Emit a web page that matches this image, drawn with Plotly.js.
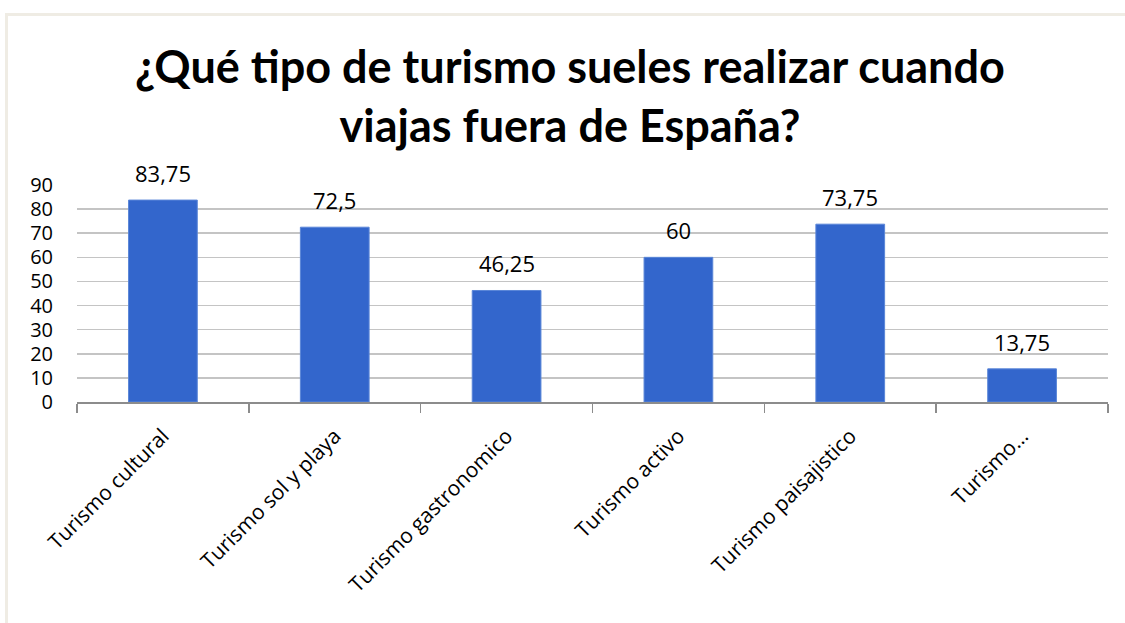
<!DOCTYPE html>
<html>
<head>
<meta charset="utf-8">
<script src="https://cdn.plot.ly/plotly-3.0.1.min.js"></script>
<style>
html,body{margin:0;padding:0;background:#fff;}
#frame{position:absolute;left:5px;top:13px;width:1120px;height:610px;border-left:3px solid #EFECE4;border-top:3px solid #EFECE4;box-sizing:border-box;}
#chart{position:absolute;left:0;top:0;width:1125px;height:623px;}
</style>
</head>
<body>
<div id="frame"></div>
<div id="chart"></div>
<script>
var categories = ["Turismo cultural", "Turismo sol y playa", "Turismo gastronomico", "Turismo activo", "Turismo paisajistico", "Turismo…"];
var values = [83.75, 72.5, 46.25, 60, 73.75, 13.75];
var yTicks = [0, 10, 20, 30, 40, 50, 60, 70, 80, 90];

var TFONT = "Lato, 'Open Sans', sans-serif";
var FONT = "'Open Sans', 'Noto Sans', sans-serif";

var trace = {
  type: "bar",
  x: categories,
  y: values,
  marker: {color: "#3366CC", line: {color: "#5A86D8", width: 1}},
  hoverinfo: "none"
};

var annotations = categories.map(function(c, i){
  return {
    x: c, y: values[i], xref: "x", yref: "y",
    text: String(values[i]).replace(".", ","),
    showarrow: false, yanchor: "bottom", yshift: 10,
    font: {family: FONT, size: 22, color: "#000"}
  };
});

var layout = {
  width: 1125, height: 623,
  paper_bgcolor: "rgba(0,0,0,0)",
  plot_bgcolor: "rgba(0,0,0,0)",
  margin: {l: 77, r: 17, t: 185, b: 221, pad: 0},
  showlegend: false,
  bargap: 0.6,
  title: {
    text: "¿Qué tipo de turismo sueles realizar cuando<br>viajas fuera de España?",
    font: {family: TFONT, size: 45, color: "#000", weight: "bold"},
    x: 570/1125, xanchor: "center", xref: "container",
    y: 1 - 83/623, yanchor: "top", yref: "container"
  },
  xaxis: {
    type: "category",
    tickangle: -45,
    tickfont: {family: FONT, size: 21, color: "#000"},
    showline: true, linecolor: "#8C8C8C", linewidth: 1.5,
    ticks: "outside", ticklen: 9, tickcolor: "#8C8C8C", tickwidth: 1.5,
    tickson: "boundaries",
    ticklabelstandoff: 12,
    showgrid: false
  },
  yaxis: {
    range: [0, 90],
    tickvals: yTicks,
    ticktext: yTicks.map(String),
    tickfont: {family: FONT, size: 20, color: "#000"},
    showgrid: true, gridcolor: "#C4C4C4", gridwidth: 1.5,
    zeroline: false, showline: false, ticks: "",
    ticklabelstandoff: 23
  },
  annotations: annotations
};

Plotly.newPlot("chart", [trace], layout, {displayModeBar: false, staticPlot: true});
</script>
</body>
</html>
